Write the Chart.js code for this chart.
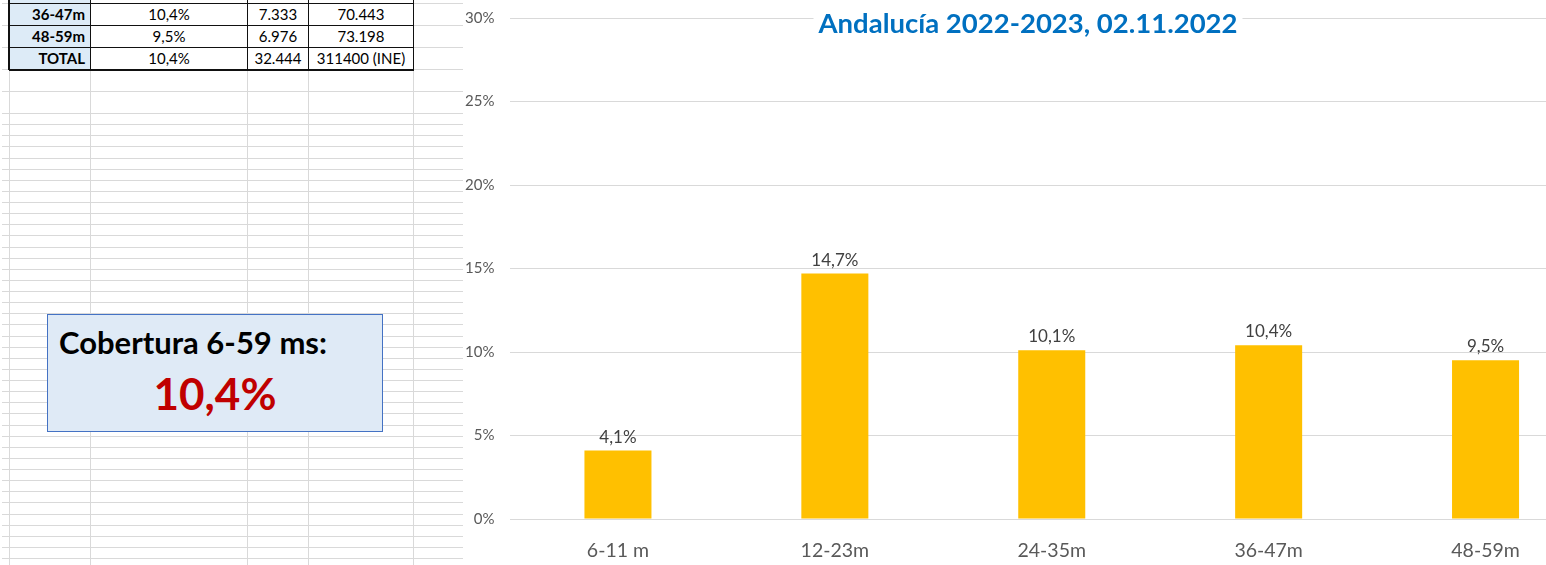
<!DOCTYPE html>
<html lang="es">
<head>
<meta charset="utf-8">
<title>Cobertura gripe 6-59 meses - Andalucía</title>
<script src="https://cdn.jsdelivr.net/npm/chart.js@4.4.0/dist/chart.umd.min.js"></script>
<style>
  html, body { margin: 0; padding: 0; width: 1546px; height: 565px; overflow: hidden; background: #fff; font-family: Lato, "Open Sans", sans-serif; }
  #sheet { position: absolute; left: 0; top: 0; width: 464px; height: 565px; background: #fff; }
  .hl { position: absolute; height: 1px; background: #d9d9d9; }
  .vl { position: absolute; width: 1px; background: #d9d9d9; }
  .bd { position: absolute; background: #111; }
  .cell { position: absolute; height: 22px; line-height: 22px; font-size: 15px; color: #000; text-align: center; white-space: nowrap; }
  .cell.head { font-weight: bold; text-align: right; padding-right: 5px; box-sizing: border-box; }
  .fill { position: absolute; background: #ddebf7; }
  #kpi { position: absolute; left: 47px; top: 314px; width: 336px; height: 118px; box-sizing: border-box; background: #dfeaf6; border: 1px solid #4472c4; }
  #kpi .lbl { position: absolute; left: 11px; top: 12px; font-weight: bold; font-size: 31px; line-height: 1; color: #000; white-space: nowrap; }
  #kpi .val { position: absolute; left: 0; width: 100%; top: 56px; text-align: center; font-weight: bold; font-size: 44px; line-height: 1; color: #c00000; }
  #chartBox { position: absolute; left: 463px; top: 0; width: 1136px; height: 565px; background: #fff; }
</style>
</head>
<body>
<div id="sheet"></div>
<div id="kpi"><div class="lbl"></div><div class="val"></div></div>
<div id="chartBox"><canvas id="coverageChart" width="1136" height="565"></canvas></div>
<script>
// datos del grafico
const categories = ['6-11 m', '12-23m', '24-35m', '36-47m', '48-59m'];
const coverage = [4.1, 14.7, 10.1, 10.4, 9.5];
const yTicks = [0, 5, 10, 15, 20, 25, 30];
const chartTitle = 'Andalucía 2022-2023, 02.11.2022';

// filas visibles de la tabla de la hoja
const tableAges = ['36-47m', '48-59m', 'TOTAL'];
const tableCoverage = ['10,4%', '9,5%', '10,4%'];
const tableVaccinated = ['7.333', '6.976', '32.444'];
const tablePopulation = ['70.443', '73.198', '311400 (INE)'];

const kpiLabel = 'Cobertura 6-59 ms:';
const kpiValue = '10,4%';

function fmtPct(v) {
    return v.toFixed(1).replace('.', ',') + '%';
}

// --- hoja de calculo de fondo ---
const sheet = document.getElementById('sheet');
const colX = [9, 90, 247, 308, 413];

function addDiv(cls, style, text) {
    const d = document.createElement('div');
    d.className = cls;
    Object.assign(d.style, style);
    if (text !== undefined) d.textContent = text;
    sheet.appendChild(d);
    return d;
}

// lineas grises de la cuadricula
let rowLines = [3, 25, 47, 69, 91];
for (let k = 0; k <= 41; k++) rowLines.push(Math.round(113 + k * 11.125));
rowLines.forEach(y => addDiv('hl', { left: '2px', top: y + 'px', width: '462px' }));
colX.concat([463]).forEach(x => addDiv('vl', { left: x + 'px', top: '0px', height: '565px' }));

// columna de cabecera con relleno azul
addDiv('fill', { left: '10px', top: '0px', width: '80px', height: '69px' });

// celdas
const rowTop = [3, 25, 47];
const cols = [tableAges, tableCoverage, tableVaccinated, tablePopulation];
rowTop.forEach((top, r) => {
    cols.forEach((col, c) => {
        const left = colX[c] + 1;
        const width = colX[c + 1] - colX[c] - 1;
        addDiv(c === 0 ? 'cell head' : 'cell', { left: left + 'px', top: top + 'px', width: width + 'px' }, col[r]);
    });
});

// bordes negros de la tabla
[3, 25, 47].forEach(y => addDiv('bd', { left: '9px', top: y + 'px', width: '405px', height: '1px' }));
addDiv('bd', { left: '9px', top: '69px', width: '405px', height: '2px' });
colX.forEach((x, i) => addDiv('bd', { left: (i === 0 ? x - 1 : x) + 'px', top: '0px', width: (i === 0 ? 2 : 1) + 'px', height: '70px' }));

document.querySelector('#kpi .lbl').textContent = kpiLabel;
document.querySelector('#kpi .val').textContent = kpiValue;

// --- plugins: etiquetas de datos y titulo ---
const barLabels = {
    id: 'barLabels',
    afterDatasetsDraw(chart) {
        const ctx = chart.ctx;
        const meta = chart.getDatasetMeta(0);
        ctx.save();
        ctx.font = '17px Lato';
        ctx.fillStyle = '#404040';
        ctx.textAlign = 'center';
        ctx.textBaseline = 'alphabetic';
        meta.data.forEach((bar, i) => {
            ctx.fillText(fmtPct(coverage[i]), bar.x, bar.y - 8);
        });
        ctx.restore();
    }
};

const titleBox = {
    id: 'titleBox',
    afterDraw(chart) {
        const ctx = chart.ctx;
        ctx.save();
        ctx.font = 'bold 27.5px Lato';
        const w = ctx.measureText(chartTitle).width;
        const cx = chart.width / 2 - 3;
        ctx.fillStyle = '#fff';
        ctx.fillRect(cx - w / 2 - 5, 0, w + 10, 42);
        ctx.fillStyle = '#0070c0';
        ctx.textAlign = 'center';
        ctx.textBaseline = 'alphabetic';
        ctx.fillText(chartTitle, cx, 33);
        ctx.restore();
    }
};

new Chart(document.getElementById('coverageChart'), {
    type: 'bar',
    data: {
        labels: categories,
        datasets: [{
            data: coverage,
            backgroundColor: '#ffc000',
            borderWidth: 0,
            categoryPercentage: 1,
            barPercentage: 0.309
        }]
    },
    options: {
        responsive: false,
        animation: false,
        layout: { padding: { top: 18, right: 5, left: 0, bottom: 0 } },
        plugins: {
            legend: { display: false },
            title: { display: false },
            tooltip: { enabled: false }
        },
        scales: {
            x: {
                grid: { display: false, drawTicks: false },
                border: { display: false },
                ticks: {
                    color: '#595959',
                    font: { family: 'Lato', size: 19.5 },
                    padding: 20,
                    maxRotation: 0,
                    autoSkip: false
                },
                afterFit(scale) { scale.height = 46; }
            },
            y: {
                min: 0,
                max: 30,
                grid: { color: '#d9d9d9', lineWidth: 1, drawTicks: false },
                border: { display: false },
                ticks: {
                    color: '#595959',
                    // lineHeight bajo para que la etiqueta superior no empuje el area del grafico
                    font: { family: 'Lato', size: 15, lineHeight: 0.2 },
                    padding: 15,
                    callback: v => v + '%'
                },
                afterBuildTicks(scale) { scale.ticks = yTicks.map(v => ({ value: v })); },
                afterFit(scale) { scale.width = 46.5; }
            }
        }
    },
    plugins: [barLabels, titleBox]
});
</script>
</body>
</html>
